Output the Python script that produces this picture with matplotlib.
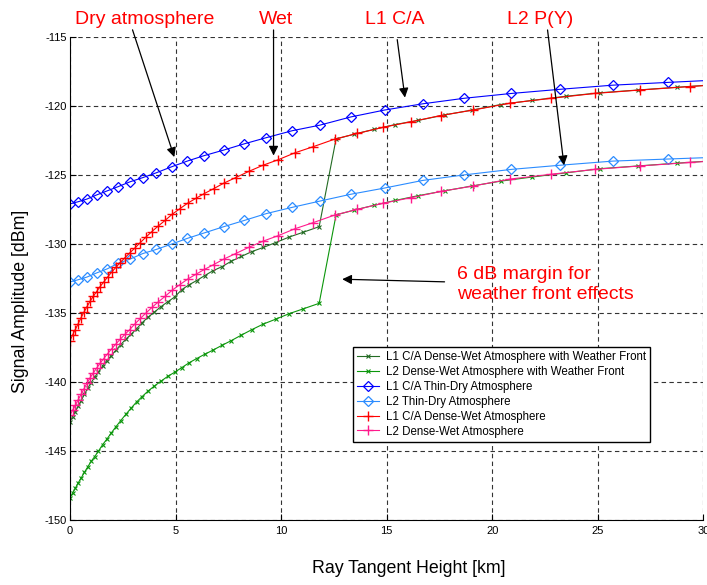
import matplotlib
matplotlib.use("Agg")
import matplotlib.pyplot as plt

plt.rcParams['font.family'] = ['Liberation Sans', 'DejaVu Sans']
plt.rcParams['axes.unicode_minus'] = False

# sample heights [km] of the dry-atmosphere curves
x_dry = [0.0, 0.37, 0.8, 1.26, 1.77, 2.28, 2.84, 3.44, 4.08, 4.83, 5.55, 6.36, 7.28,
         8.25, 9.3, 10.52, 11.82, 13.3, 14.9, 16.7, 18.66, 20.9, 23.2, 25.7, 28.3, 31.0]
l1_dry = [-127.1, -126.95, -126.75, -126.45, -126.15, -125.85, -125.5, -125.2, -124.85,
          -124.4, -124.0, -123.6, -123.2, -122.75, -122.3, -121.8, -121.4, -120.8, -120.3,
          -119.85, -119.45, -119.1, -118.8, -118.5, -118.3, -118.1]
l2_dry = [-132.75, -132.6, -132.4, -132.1, -131.8, -131.4, -131.1, -130.7, -130.4, -130.0,
          -129.6, -129.2, -128.75, -128.3, -127.8, -127.35, -126.9, -126.4, -125.95, -125.4,
          -125.0, -124.6, -124.3, -124.0, -123.85, -123.7]

# sample heights of the dense-wet curves
x_wet = [0.0, 0.12, 0.25, 0.38, 0.52, 0.66, 0.8, 0.95, 1.1, 1.26, 1.42, 1.6, 1.78, 1.97,
         2.17, 2.38, 2.6, 2.83, 3.07, 3.33, 3.6, 3.88, 4.18, 4.5, 4.84, 5.2, 5.57, 5.96,
         6.36, 6.8, 7.28, 7.84, 8.46, 9.14, 9.86, 10.65, 11.53, 12.55, 13.6, 14.83, 16.15,
         17.55, 19.1, 20.85, 22.8, 24.85, 27.0, 29.35, 31.8]
l1_wet = [-137.0, -136.6, -136.2, -135.8, -135.35, -134.95, -134.55, -134.15, -133.8, -133.45,
          -133.1, -132.75, -132.4, -132.05, -131.7, -131.35, -131.0, -130.65, -130.3, -129.9,
          -129.5, -129.1, -128.7, -128.3, -127.85, -127.45, -127.05, -126.7, -126.35, -126.0,
          -125.6, -125.2, -124.75, -124.3, -123.9, -123.4, -122.95, -122.4, -122.0, -121.55,
          -121.15, -120.7, -120.3, -119.8, -119.45, -119.1, -118.85, -118.6, -118.35]
l2_wet = [-142.4, -142.05, -141.7, -141.3, -140.9, -140.5, -140.1, -139.7, -139.35, -139.0,
          -138.65, -138.3, -137.95, -137.6, -137.25, -136.9, -136.55, -136.2, -135.8, -135.4,
          -135.0, -134.6, -134.2, -133.8, -133.35, -132.95, -132.55, -132.2, -131.85, -131.5,
          -131.1, -130.7, -130.25, -129.8, -129.4, -128.9, -128.45, -127.9, -127.5, -127.05,
          -126.65, -126.2, -125.8, -125.3, -124.95, -124.6, -124.35, -124.1, -123.85]

# sample heights of the weather-front curves
x_front = [0.0, 0.12, 0.25, 0.39, 0.53, 0.68, 0.84, 1.0, 1.17, 1.35, 1.54, 1.74, 1.95, 2.17,
           2.4, 2.64, 2.89, 3.15, 3.42, 3.7, 3.99, 4.3, 4.62, 4.95, 5.3, 5.65, 6.0, 6.37,
           6.76, 7.19, 7.64, 8.12, 8.62, 9.16, 9.74, 10.38, 11.05, 11.8, 12.6, 13.45, 14.4,
           15.4, 16.5, 17.75, 19.05, 20.4, 21.9, 23.5, 25.1, 26.9, 28.75, 30.7]
l1_front = [-142.9, -142.5, -142.15, -141.75, -141.35, -140.9, -140.45, -140.05, -139.65,
            -139.25, -138.85, -138.45, -138.1, -137.7, -137.3, -136.9, -136.55, -136.15,
            -135.7, -135.3, -134.95, -134.55, -134.2, -133.85, -133.3, -132.95, -132.65,
            -132.3, -131.95, -131.65, -131.25, -130.9, -130.55, -130.25, -129.9, -129.5,
            -129.15, -128.75, -122.4, -122.05, -121.7, -121.35, -121.05, -120.65, -120.3,
            -119.9, -119.6, -119.3, -119.05, -118.85, -118.65, -118.45]
l2_front = [-148.4, -148.05, -147.7, -147.3, -146.95, -146.55, -146.15, -145.75, -145.4,
            -145.0, -144.55, -144.15, -143.7, -143.25, -142.8, -142.35, -141.9, -141.45,
            -141.05, -140.65, -140.3, -139.95, -139.6, -139.3, -138.95, -138.6, -138.3,
            -138.0, -137.7, -137.35, -137.0, -136.6, -136.2, -135.8, -135.45, -135.05,
            -134.7, -134.3, -127.9, -127.55, -127.2, -126.85, -126.5, -126.15, -125.8,
            -125.45, -125.15, -124.85, -124.55, -124.35, -124.15, -123.95]

fig = plt.figure(figsize=(7.07, 5.85), dpi=100)
ax = fig.add_axes([0.099, 0.111, 0.896, 0.826])

ax.plot(x_front, l1_front, '-x', color='#236b23', lw=0.8, ms=3.5, mew=0.8,
        label='L1 C/A Dense-Wet Atmosphere with Weather Front')
ax.plot(x_front, l2_front, '-x', color='#0b960b', lw=0.8, ms=3.5, mew=0.8,
        label='L2 Dense-Wet Atmosphere with Weather Front')
ax.plot(x_dry, l1_dry, '-D', color='#0000ff', lw=0.8, ms=5, mew=0.9, mfc='none',
        label='L1 C/A Thin-Dry Atmosphere')
ax.plot(x_dry, l2_dry, '-D', color='#2b8cff', lw=0.8, ms=5, mew=0.9, mfc='none',
        label='L2 Thin-Dry Atmosphere')
ax.plot(x_wet, l1_wet, '-+', color='#ff0000', lw=0.8, ms=7, mew=1.0,
        label='L1 C/A Dense-Wet Atmosphere')
ax.plot(x_wet, l2_wet, '-+', color='#ff1a8c', lw=0.8, ms=7, mew=1.0,
        label='L2 Dense-Wet Atmosphere')

ax.set_xlim(0, 30)
ax.set_ylim(-150, -115)
ax.set_xticks(range(0, 31, 5))
ax.set_yticks(range(-150, -114, 5))
ax.tick_params(direction='in', length=4, labelsize=8, width=0.8)
ax.tick_params(axis='y', pad=2)
ax.tick_params(axis='x', pad=4)
ax.grid(True, color='0.2', linestyle=(0, (4, 3)), lw=0.8)
ax.spines['top'].set_visible(False)
ax.spines['right'].set_visible(False)

ax.set_xlabel('Ray Tangent Height [km]', fontsize=12.8)
ax.set_ylabel('Signal Amplitude [dBm]', fontsize=12.8)
ax.xaxis.set_label_coords(0.534, -0.083)
ax.yaxis.set_label_coords(-0.064, 0.453)

leg = ax.legend(loc='upper left', bbox_to_anchor=(0.447, 0.358), borderaxespad=0,
                fontsize=8.3, handlelength=1.9, labelspacing=0.25, fancybox=False,
                framealpha=1, edgecolor='black', borderpad=0.35, handletextpad=0.6)
leg.get_frame().set_linewidth(1.0)

# red callouts
red = '#ff0000'
arrow = dict(arrowstyle='-|>', color='black', lw=0.9, mutation_scale=14)
ax.annotate('', xy=(4.98, -123.9), xytext=(2.92, -114.3), arrowprops=arrow,
            annotation_clip=False)
ax.annotate('', xy=(9.64, -123.8), xytext=(9.64, -114.3), arrowprops=arrow,
            annotation_clip=False)
ax.annotate('', xy=(15.88, -119.6), xytext=(15.48, -115.0), arrowprops=arrow,
            annotation_clip=False)
ax.annotate('', xy=(23.41, -124.5), xytext=(22.6, -114.3), arrowprops=arrow,
            annotation_clip=False)
ax.annotate('', xy=(12.76, -132.55), xytext=(17.87, -132.75), arrowprops=arrow)

fig.text(145 / 707, 1 - 19 / 585, 'Dry atmosphere', color=red, fontsize=14,
         ha='center', va='center')
fig.text(276 / 707, 1 - 19 / 585, 'Wet', color=red, fontsize=14, ha='center', va='center')
fig.text(395 / 707, 1 - 19 / 585, 'L1 C/A', color=red, fontsize=14, ha='center', va='center')
fig.text(540 / 707, 1 - 19 / 585, 'L2 P(Y)', color=red, fontsize=14, ha='center', va='center')
ax.text(18.35, -132.95, '6 dB margin for\nweather front effects', color=red, fontsize=14,
        ha='left', va='center', linespacing=1.2)

fig.savefig('out.png', dpi=100)
